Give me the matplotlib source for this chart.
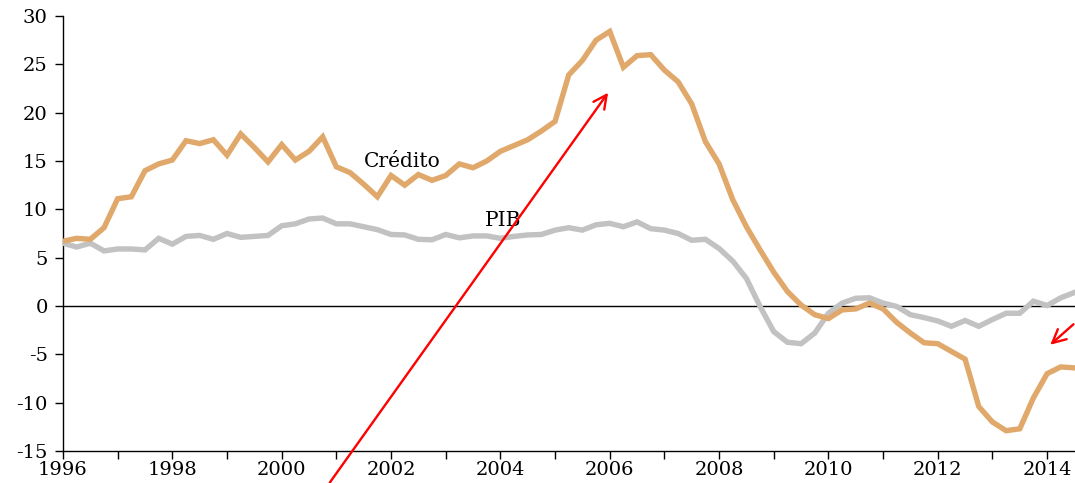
import numpy as np
import matplotlib.pyplot as plt

# quarterly, 1996Q1 .. 2014Q3
credito = [6.7, 7.0, 6.9, 8.1, 11.1, 11.3, 14.0, 14.7, 15.1, 17.1, 16.8, 17.2,
           15.6, 17.8, 16.4, 14.9, 16.7, 15.1, 16.0, 17.5, 14.4, 13.8, 12.6, 11.3,
           13.5, 12.5, 13.6, 13.0, 13.5, 14.7, 14.3, 15.0, 16.0, 16.6, 17.2, 18.1,
           19.1, 23.9, 25.4, 27.5, 28.4, 24.7, 25.9, 26.0, 24.4, 23.2, 20.9, 17.0,
           14.7, 11.0, 8.2, 5.8, 3.5, 1.5, 0.1, -0.9, -1.3, -0.4, -0.3, 0.3,
           -0.3, -1.7, -2.8, -3.8, -3.9, -4.7, -5.5, -10.4, -12.0, -12.9, -12.7, -9.5,
           -7.0, -6.3, -6.4]
pib = [6.5, 6.1, 6.5, 5.7, 5.9, 5.9, 5.8, 7.0, 6.4, 7.2, 7.3, 6.9,
       7.5, 7.1, 7.2, 7.3, 8.3, 8.5, 9.0, 9.1, 8.5, 8.5, 8.2, 7.9,
       7.4, 7.35, 6.9, 6.85, 7.4, 7.05, 7.25, 7.25, 7.0, 7.2, 7.35, 7.4,
       7.85, 8.1, 7.85, 8.4, 8.55, 8.2, 8.7, 8.0, 7.85, 7.5, 6.8, 6.9,
       5.95, 4.65, 2.85, -0.05, -2.65, -3.75, -3.9, -2.8, -0.75, 0.3, 0.8, 0.85,
       0.3, -0.05, -0.9, -1.2, -1.55, -2.1, -1.5, -2.1, -1.4, -0.75, -0.75, 0.5,
       0.05, 0.85, 1.4]
fechas = 1996 + np.arange(len(credito)) * 0.25
years = list(range(1996, 2015))
year_labels = [str(y) if y % 2 == 0 else '' for y in years]

plt.rcParams['font.family'] = 'DejaVu Serif'
plt.rcParams['axes.unicode_minus'] = False

fig = plt.figure(figsize=(10.75, 4.83), dpi=100)
ax = fig.add_axes([63 / 1075, 32 / 483, 1 - 63 / 1075, 435 / 483])

ax.plot(fechas, pib, color='#C2C2C2', lw=3.9, solid_joinstyle='miter', zorder=3)
ax.plot(fechas, credito, color='#E0A96B', lw=3.9, solid_joinstyle='miter', zorder=4)
ax.axhline(0, color='black', lw=1, zorder=2)

ax.set_xlim(1996, 2014.51)
ax.set_ylim(-15, 30)
ax.set_yticks(range(-15, 31, 5))
ax.set_xticks(years)
ax.set_xticklabels(year_labels)
ax.tick_params(axis='both', labelsize=14, direction='out', length=6, width=1, colors='black')
ax.tick_params(axis='x', pad=1)
ax.tick_params(axis='y', pad=5)
for s in ['top', 'right']:
    ax.spines[s].set_visible(False)
for s in ['left', 'bottom']:
    ax.spines[s].set_linewidth(1)

ax.text(2002.2, 14.9, 'Crédito', fontsize=14.5, ha='center', va='center', zorder=5)
ax.text(2004.05, 8.8, 'PIB', fontsize=14.5, ha='center', va='center', zorder=5)

ax.annotate('', xy=(2006.0, 22.3), xytext=(2000.85, -18.5),
            arrowprops=dict(arrowstyle='->', color='red', lw=1.7, mutation_scale=24),
            annotation_clip=False, zorder=6)
ax.annotate('', xy=(2014.02, -4.2), xytext=(2014.52, -1.7),
            arrowprops=dict(arrowstyle='->', color='red', lw=1.7, mutation_scale=24),
            annotation_clip=False, zorder=6)

fig.savefig('out.png', dpi=100)
